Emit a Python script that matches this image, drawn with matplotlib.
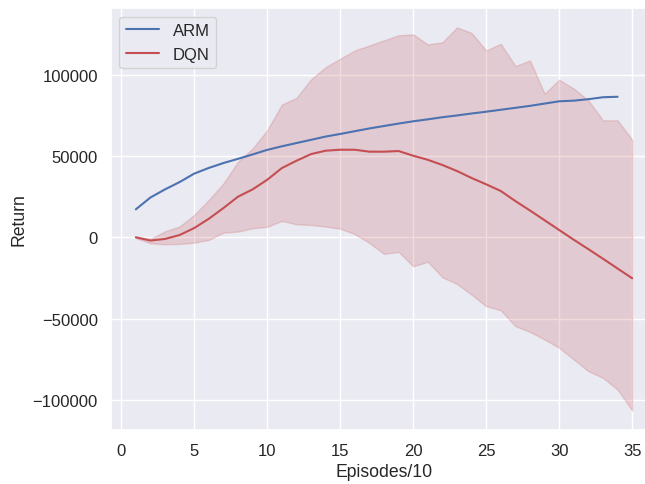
import matplotlib
matplotlib.use("Agg")
import matplotlib.pyplot as plt
import numpy as np
import seaborn as sns

sns.set_theme(style="darkgrid", color_codes=True)
plt.rcParams['font.family'] = ['Liberation Sans', 'DejaVu Sans']
plt.rcParams['xtick.labelsize'] = 12
plt.rcParams['ytick.labelsize'] = 12
plt.rcParams['axes.labelsize'] = 12.7
plt.rcParams['legend.fontsize'] = 12

# ARM mean return per 10 episodes
arm_x = np.arange(1, 35)
arm_y = [17200, 24500, 29500, 34000, 39200, 42700, 45700, 48300, 51000, 53800,
         56000, 58000, 60000, 62000, 63600, 65300, 67000, 68500, 70000, 71400,
         72600, 73900, 75000, 76200, 77300, 78500, 79700, 80900, 82300, 83700,
         84100, 85000, 86200, 86500]

# DQN mean return and spread
dqn_x = np.arange(1, 36)
dqn_y = [0, -2000, -1000, 1400, 5700, 11400, 18000, 25000, 29500, 35400,
         42600, 47100, 51200, 53300, 53900, 53900, 52700, 52700, 53100, 50200,
         47700, 44500, 40800, 36500, 32600, 28500, 22300, 16500, 10500, 4500,
         -1500, -7300, -13200, -19200, -25200]
dqn_hi = [500, -1000, 3700, 6700, 13800, 23000, 33200, 46500, 54700, 65900,
          81700, 85800, 97200, 104700, 109900, 115000, 118100, 121200, 124300, 124900,
          118700, 120000, 129200, 125800, 115000, 119100, 105400, 108800, 88400, 97000,
          91500, 84300, 72000, 72000, 60100]
dqn_lo = [-500, -3700, -4300, -4100, -3300, -1600, 2900, 3500, 5600, 6400,
          10100, 8000, 7600, 6600, 5300, 2000, -3500, -10200, -9000, -17800,
          -15100, -24600, -28700, -35300, -42400, -44900, -54700, -58200, -62900, -68000,
          -75200, -82400, -86500, -93700, -106600]

fig = plt.figure(figsize=(6.45, 4.85), dpi=100)
ax = fig.add_axes([0.1721, 0.112, 0.8465, 0.869])

ax.plot(arm_x, arm_y, color='b', label='ARM')
ax.plot(dqn_x, dqn_y, color='r', label='DQN')
ax.fill_between(dqn_x, dqn_lo, dqn_hi, color='r', alpha=0.2)

ax.set_xlabel("Episodes/10")
ax.set_ylabel("Return")
ax.legend(loc='upper left')

fig.savefig("out.png", dpi=100)
